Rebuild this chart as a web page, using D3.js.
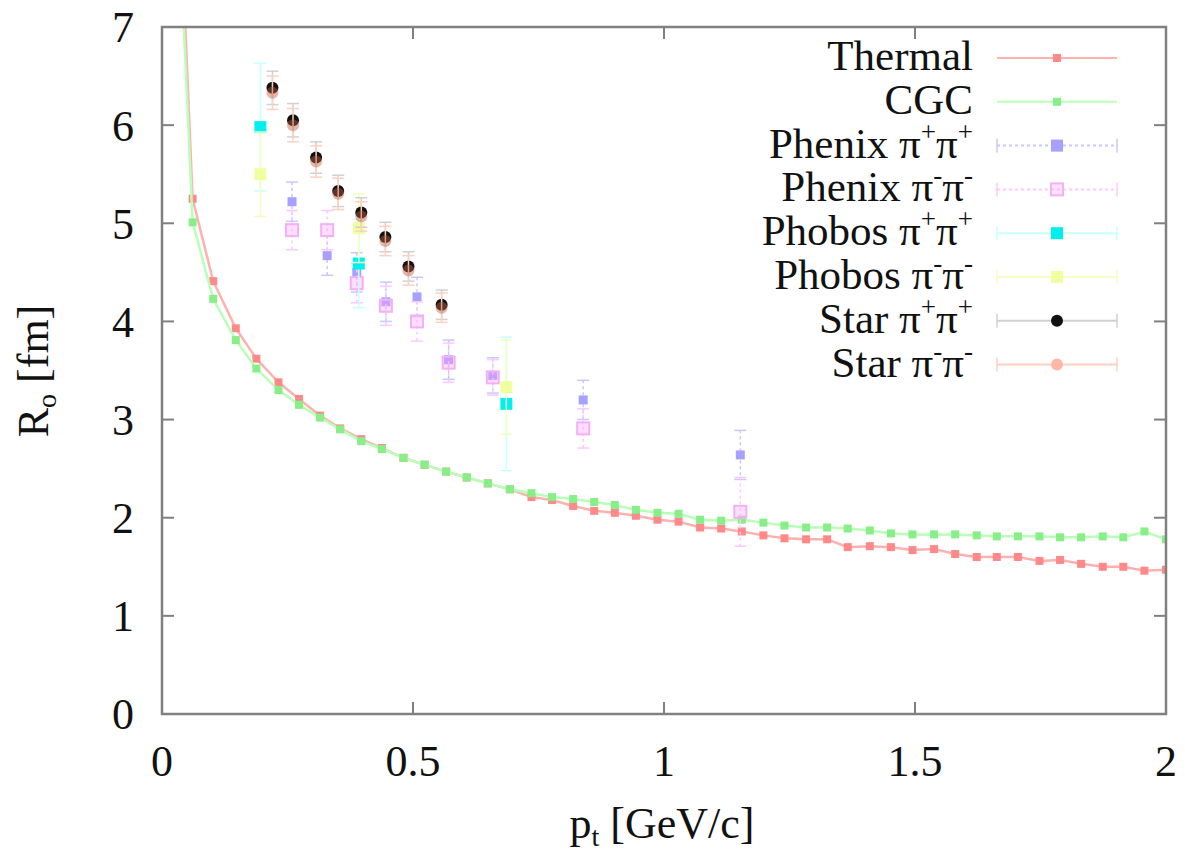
<!DOCTYPE html>
<html>
<head>
<meta charset="utf-8">
<script src="https://cdn.jsdelivr.net/npm/d3@7"></script>
<style>
  body { margin: 0; background: #fff; }
  text { font-family: "Liberation Serif", "DejaVu Serif", serif; fill: #111; }
</style>
</head>
<body>
<div id="chart"></div>
<script>
// model curves (pt in GeV/c, Ro in fm)
var curveX = [0.019, 0.061, 0.102, 0.147, 0.188, 0.232, 0.273, 0.315, 0.355, 0.397, 0.438, 0.481,
    0.523, 0.566, 0.607, 0.649, 0.693, 0.736, 0.777, 0.819, 0.861, 0.902, 0.944, 0.987, 1.029,
    1.072, 1.114, 1.155, 1.198, 1.240, 1.283, 1.325, 1.366, 1.410, 1.452, 1.495, 1.538, 1.580,
    1.623, 1.663, 1.705, 1.748, 1.789, 1.831, 1.874, 1.915, 1.957, 2.000];
var thermalY = [10.3, 5.25, 4.41, 3.93, 3.62, 3.38, 3.21, 3.04, 2.91, 2.80, 2.71, 2.61,
    2.54, 2.47, 2.41, 2.35, 2.29, 2.21, 2.18, 2.12, 2.07, 2.05, 2.02, 1.98, 1.96,
    1.90, 1.89, 1.86, 1.82, 1.79, 1.78, 1.78, 1.70, 1.71, 1.70, 1.67, 1.68, 1.63,
    1.60, 1.60, 1.60, 1.56, 1.57, 1.53, 1.50, 1.50, 1.46, 1.47];
var cgcY = [9.8, 5.01, 4.23, 3.81, 3.52, 3.30, 3.15, 3.02, 2.90, 2.78, 2.70, 2.61,
    2.54, 2.47, 2.41, 2.35, 2.29, 2.25, 2.21, 2.19, 2.16, 2.13, 2.08, 2.05, 2.04,
    1.98, 1.97, 1.98, 1.95, 1.92, 1.90, 1.90, 1.89, 1.87, 1.84, 1.83, 1.83, 1.83,
    1.82, 1.81, 1.81, 1.81, 1.80, 1.80, 1.81, 1.80, 1.86, 1.78];

// experimental data
var phenixX = [0.259, 0.329, 0.388, 0.446, 0.508, 0.571, 0.659, 0.839, 1.152];
var phenixPlusY = [5.22, 4.67, 4.50, 4.20, 4.25, 3.61, 3.45, 3.20, 2.64];
var phenixPlusErr = [0.20, 0.20, 0.20, 0.20, 0.20, 0.20, 0.18, 0.20, 0.25];
var phenixMinusY = [4.93, 4.93, 4.39, 4.16, 4.00, 3.58, 3.43, 2.91, 2.06];
var phenixMinusErr = [0.20, 0.20, 0.20, 0.20, 0.20, 0.20, 0.18, 0.20, 0.35];
var phobosX = [0.196, 0.392, 0.686];
var phobosPlusY = [5.98, 4.59, 3.16];
var phobosPlusErr = [0.65, 0.45, 0.68];
var phobosMinusY = [5.50, 4.95, 3.33];
var phobosMinusErr = [0.43, 0.35, 0.48];
var starX = [0.220, 0.261, 0.307, 0.351, 0.397, 0.445, 0.491, 0.557];
var starPlusY = [6.38, 6.05, 5.67, 5.33, 5.11, 4.86, 4.56, 4.17];
var starMinusY = [6.33, 6.00, 5.63, 5.30, 5.07, 4.82, 4.52, 4.14];
var starErr = [0.17, 0.17, 0.16, 0.16, 0.15, 0.15, 0.15, 0.15];

var xTicks = [0, 0.5, 1, 1.5, 2];
var yTicks = [0, 1, 2, 3, 4, 5, 6, 7];

var W = 1185, H = 849;
var svg = d3.select("#chart").append("svg")
    .attr("width", W).attr("height", H);

var x = d3.scaleLinear().domain([0, 2]).range([162, 1166]);
var y = d3.scaleLinear().domain([0, 7]).range([714, 27]);

svg.append("clipPath").attr("id", "plotclip")
    .append("rect")
    .attr("x", x(0)).attr("y", y(7))
    .attr("width", x(2) - x(0)).attr("height", y(0) - y(7));

var plot = svg.append("g").attr("clip-path", "url(#plotclip)");

// --- model curves
function drawCurve(xs, ys, lineColor, ptColor) {
    var pts = xs.map(function (d, i) { return [d, ys[i]]; });
    plot.append("path")
        .datum(pts)
        .attr("fill", "none")
        .attr("stroke", lineColor)
        .attr("stroke-width", 2.5)
        .attr("d", d3.line().x(function (d) { return x(d[0]); }).y(function (d) { return y(d[1]); }));
    plot.append("g").selectAll("rect")
        .data(pts).enter().append("rect")
        .attr("x", function (d) { return x(d[0]) - 4; })
        .attr("y", function (d) { return y(d[1]) - 4; })
        .attr("width", 8).attr("height", 8)
        .attr("fill", ptColor);
}
drawCurve(curveX, thermalY, "#ffb0b0", "#ff8888");
drawCurve(curveX, cgcY, "#b8ffb8", "#88ee88");

// --- error bar series
function drawErr(xs, ys, es, color, dash) {
    var g = plot.append("g");
    xs.forEach(function (xv, i) {
        var cx = x(xv), top = y(ys[i] + es[i]), bot = y(ys[i] - es[i]);
        g.append("line").attr("x1", cx).attr("x2", cx).attr("y1", top).attr("y2", bot)
            .attr("stroke", color).attr("stroke-width", 1.5)
            .attr("stroke-dasharray", dash || null);
        [top, bot].forEach(function (yy) {
            g.append("line").attr("x1", cx - 6).attr("x2", cx + 6).attr("y1", yy).attr("y2", yy)
                .attr("stroke", color).attr("stroke-width", 1.5);
        });
    });
    return g;
}

function squares(xs, ys, size, fill, stroke) {
    plot.append("g").selectAll("rect")
        .data(xs).enter().append("rect")
        .attr("x", function (d) { return x(d) - size / 2; })
        .attr("y", function (d, i) { return y(ys[i]) - size / 2; })
        .attr("width", size).attr("height", size)
        .attr("fill", fill || "none")
        .attr("stroke", stroke || "none")
        .attr("stroke-width", 2);
}

function circles(xs, ys, r, fill, opacity) {
    plot.append("g").selectAll("circle")
        .data(xs).enter().append("circle")
        .attr("cx", function (d) { return x(d); })
        .attr("cy", function (d, i) { return y(ys[i]); })
        .attr("r", r)
        .attr("fill", fill)
        .attr("fill-opacity", opacity || 1);
}

// Phenix pi+pi+
drawErr(phenixX, phenixPlusY, phenixPlusErr, "#c8c8ff", "3,3");
squares(phenixX, phenixPlusY, 9, "#a8a0ff");
// Phenix pi-pi-
drawErr(phenixX, phenixMinusY, phenixMinusErr, "#ffc8ff", "3,3");
squares(phenixX, phenixMinusY, 12, "rgba(255,160,255,0.35)", "#f4b0f4");
// Phobos pi+pi+
drawErr(phobosX, phobosPlusY, phobosPlusErr, "#c8ffff");
squares(phobosX, phobosPlusY, 12, "#00f0f0");
// Phobos pi-pi-
drawErr(phobosX, phobosMinusY, phobosMinusErr, "#eeffc0");
squares(phobosX, phobosMinusY, 12, "#f0ffa0");
// Star pi+pi+
drawErr(starX, starPlusY, starErr, "#d0d0d0");
circles(starX, starPlusY, 6, "#111");
// Star pi-pi-
drawErr(starX, starMinusY, starErr, "#ffd0c0");
circles(starX, starMinusY, 6, "#c06040", 0.45);

// --- frame + ticks (mirrored, inward)
var frameColor = "#808080";
svg.append("rect")
    .attr("x", x(0)).attr("y", y(7))
    .attr("width", x(2) - x(0)).attr("height", y(0) - y(7))
    .attr("fill", "none").attr("stroke", frameColor).attr("stroke-width", 2.5);

var axisG = svg.append("g");
xTicks.forEach(function (t) {
    axisG.append("line").attr("x1", x(t)).attr("x2", x(t)).attr("y1", y(0)).attr("y2", y(0) - 12)
        .attr("stroke", frameColor).attr("stroke-width", 2);
    axisG.append("line").attr("x1", x(t)).attr("x2", x(t)).attr("y1", y(7)).attr("y2", y(7) + 12)
        .attr("stroke", frameColor).attr("stroke-width", 2);
    axisG.append("text")
        .attr("x", x(t)).attr("y", 776)
        .attr("text-anchor", "middle")
        .style("font-size", "44px")
        .text(t);
});
yTicks.forEach(function (t) {
    axisG.append("line").attr("x1", x(0)).attr("x2", x(0) + 12).attr("y1", y(t)).attr("y2", y(t))
        .attr("stroke", frameColor).attr("stroke-width", 2);
    axisG.append("line").attr("x1", x(2)).attr("x2", x(2) - 12).attr("y1", y(t)).attr("y2", y(t))
        .attr("stroke", frameColor).attr("stroke-width", 2);
    axisG.append("text")
        .attr("x", 134).attr("y", y(t))
        .attr("dy", "0.35em")
        .attr("text-anchor", "end")
        .style("font-size", "44px")
        .text(t);
});

// axis titles
var xt = svg.append("text")
    .attr("x", 662).attr("y", 838)
    .attr("text-anchor", "middle")
    .style("font-size", "44px");
xt.append("tspan").text("p");
xt.append("tspan").attr("dy", 8).style("font-size", "28px").text("t");
xt.append("tspan").attr("dy", -8).text(" [GeV/c]");

var yt = svg.append("text")
    .attr("transform", "translate(48,371) rotate(-90)")
    .attr("text-anchor", "middle")
    .style("font-size", "44px");
yt.append("tspan").text("R");
yt.append("tspan").attr("dy", 8).style("font-size", "28px").text("o");
yt.append("tspan").attr("dy", -8).text(" [fm]");

// --- legend
var legendItems = [
    {name: "Thermal", sup: null, color: "#ffb0b0", mark: "#ff8888", type: "curve"},
    {name: "CGC", sup: null, color: "#b8ffb8", mark: "#88ee88", type: "curve"},
    {name: "Phenix \u03c0", sup: "+", color: "#c8c8ff", mark: "#a8a0ff", type: "sq", dash: "3,3"},
    {name: "Phenix \u03c0", sup: "-", color: "#ffc8ff", mark: "#f4b0f4", type: "open", dash: "3,3"},
    {name: "Phobos \u03c0", sup: "+", color: "#c8ffff", mark: "#00f0f0", type: "sq"},
    {name: "Phobos \u03c0", sup: "-", color: "#f4ffc8", mark: "#f0ffa0", type: "sq"},
    {name: "Star \u03c0", sup: "+", color: "#d0d0d0", mark: "#111", type: "circ"},
    {name: "Star \u03c0", sup: "-", color: "#ffd0c0", mark: "#ffb8a8", type: "circ"}
];

var legend = svg.selectAll(".legend")
    .data(legendItems)
    .enter().append("g")
    .attr("class", "legend")
    .attr("transform", function (d, i) { return "translate(0," + (58 + i * 43.8) + ")"; });

legend.append("text")
    .attr("x", 973).attr("y", 12)
    .attr("text-anchor", "end")
    .style("font-size", "43px")
    .each(function (d) {
        var t = d3.select(this);
        if (!d.sup) { t.text(d.name); return; }
        t.append("tspan").text(d.name);
        t.append("tspan").attr("dy", -17).style("font-size", "27px").text(d.sup);
        t.append("tspan").attr("dy", 17).text("\u03c0");
        t.append("tspan").attr("dy", -17).style("font-size", "27px").text(d.sup);
    });

legend.append("line")
    .attr("x1", 997).attr("x2", 1117).attr("y1", 0).attr("y2", 0)
    .attr("stroke", function (d) { return d.color; })
    .attr("stroke-width", 2)
    .attr("stroke-dasharray", function (d) { return d.dash || null; });

legend.filter(function (d) { return d.type !== "curve"; })
    .each(function (d) {
        var g = d3.select(this);
        [997, 1117].forEach(function (xx) {
            g.append("line").attr("x1", xx).attr("x2", xx).attr("y1", -7).attr("y2", 7)
                .attr("stroke", d.color).attr("stroke-width", 1.5);
        });
    });

legend.each(function (d) {
    var g = d3.select(this);
    if (d.type === "curve") {
        g.append("rect").attr("x", 1053).attr("y", -4).attr("width", 8).attr("height", 8).attr("fill", d.mark);
    } else if (d.type === "sq") {
        g.append("rect").attr("x", 1051).attr("y", -6).attr("width", 12).attr("height", 12).attr("fill", d.mark);
    } else if (d.type === "open") {
        g.append("rect").attr("x", 1051).attr("y", -6).attr("width", 12).attr("height", 12)
            .attr("fill", "rgba(255,160,255,0.3)").attr("stroke", d.mark).attr("stroke-width", 2);
    } else {
        g.append("circle").attr("cx", 1057).attr("cy", 0).attr("r", 6).attr("fill", d.mark);
    }
});
</script>
</body>
</html>
